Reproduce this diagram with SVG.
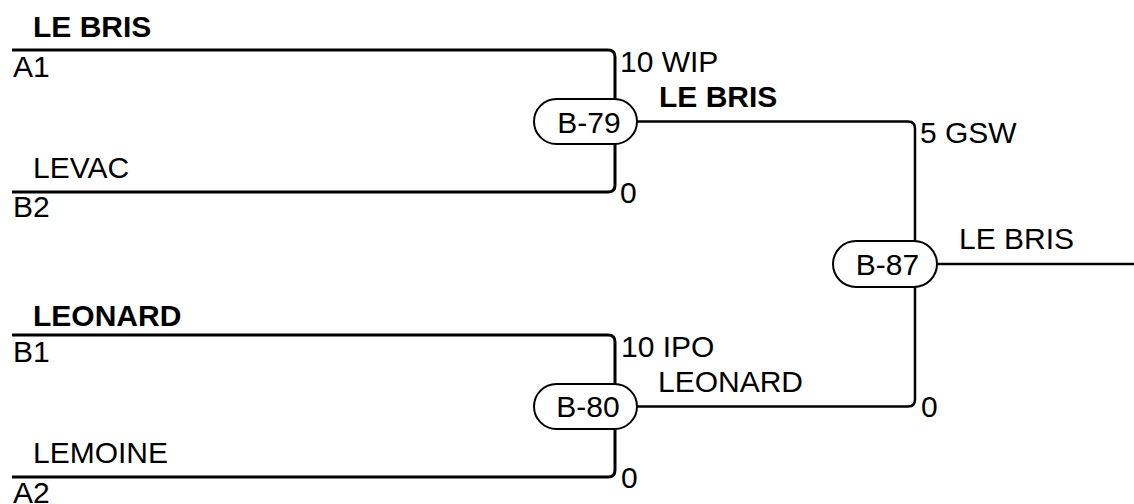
<svg xmlns="http://www.w3.org/2000/svg" width="1134" height="504" viewBox="0 0 1134 504">
<style>
text{font-family:"Liberation Sans",Arial,sans-serif;font-size:30px;fill:#000}
.b{font-weight:bold}
.m{text-anchor:middle}
.in{fill:none;stroke:#000;stroke-width:3}
.out{fill:none;stroke:#000;stroke-width:2.5}
.pill{fill:#fff;stroke:#000;stroke-width:2}
</style>
<rect width="1134" height="504" fill="#fff"/>
<g id="connectors">
<path class="in" d="M12,50 H608 Q615,50 615,57 V99"/>
<path class="in" d="M12,192 H608 Q615,192 615,185 V144"/>
<path class="in" d="M12,335 H608 Q615,335 615,342 V384"/>
<path class="in" d="M12,477 H608 Q615,477 615,470 V429"/>
<path class="out" d="M637,121.5 H908 Q915,121.5 915,128.5 V241"/>
<path class="out" d="M637,406.5 H908 Q915,406.5 915,399.5 V287"/>
<path class="out" d="M937,264 H1134"/>
</g>
<g id="labels">
<text class="b" x="33" y="37">LE BRIS</text>
<text x="13" y="77">A1</text>
<text x="620" y="72">10 WIP</text>
<text x="33" y="178">LEVAC</text>
<text x="13" y="217">B2</text>
<text x="620" y="203">0</text>
<text class="b" x="659" y="107">LE BRIS</text>
<text x="920" y="143">5 GSW</text>
<text x="959" y="249">LE BRIS</text>
<text x="921" y="417">0</text>
<text class="b" x="33" y="326">LEONARD</text>
<text x="13" y="362">B1</text>
<text x="621" y="357">10 IPO</text>
<text x="658" y="392">LEONARD</text>
<text x="33" y="463">LEMOINE</text>
<text x="13" y="503">A2</text>
<text x="621" y="488">0</text>
</g>
<g id="B-79">
<rect class="pill" x="534" y="99" width="103" height="45" rx="22.5"/>
<text class="m" x="589" y="133">B-79</text>
</g>
<g id="B-80">
<rect class="pill" x="534" y="384" width="103" height="45" rx="22.5"/>
<text class="m" x="588" y="417">B-80</text>
</g>
<g id="B-87">
<rect class="pill" x="833" y="241" width="104" height="46" rx="23"/>
<text class="m" x="887.5" y="275">B-87</text>
</g>
</svg>
